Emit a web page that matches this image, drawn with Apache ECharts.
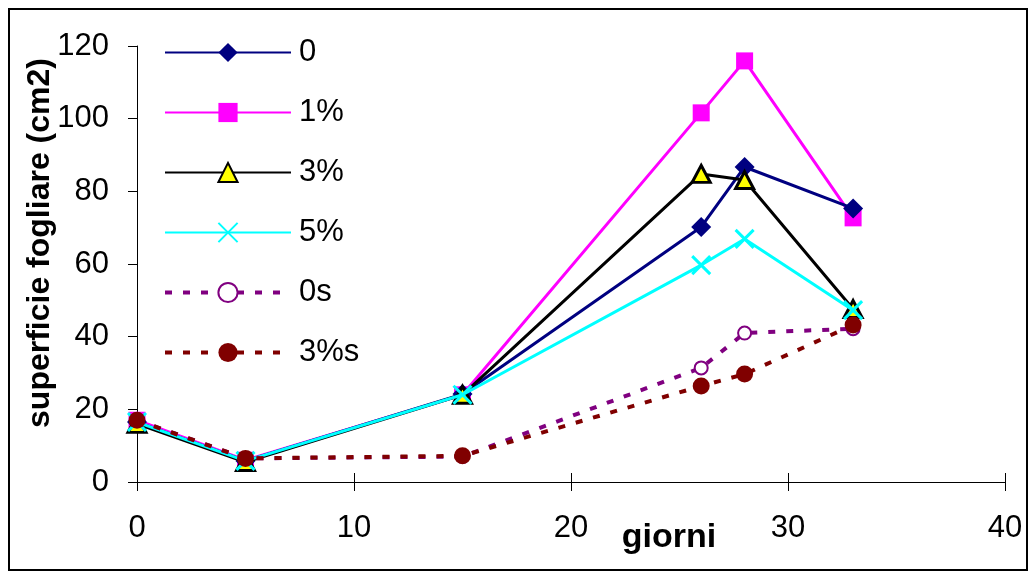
<!DOCTYPE html>
<html>
<head>
<meta charset="utf-8">
<script src="https://cdn.jsdelivr.net/npm/echarts@6/dist/echarts.min.js"></script>
<style>
html,body{margin:0;padding:0;background:#fff;}
#chart{width:1029px;height:573px;}
</style>
</head>
<body>
<div id="chart"></div>
<script>
const days = [0, 5, 15, 26, 28, 33];
const s0    = [16.5, 5.8, 24.2, 70.2, 86.7, 75.3];
const s1    = [17.0, 6.0, 24.0, 101.6, 115.9, 72.7];
const s3    = [16.0, 5.5, 24.0, 84.8, 83.1, 47.6];
const s5    = [16.5, 5.8, 24.0, 59.7, 66.9, 47.3];
const s0s   = [17.0, 6.5, 7.0, 31.4, 41.0, 42.2];
const s3s   = [17.0, 6.5, 7.2, 26.4, 29.7, 43.2];
const seriesNames = ['0', '1%', '3%', '5%', '0s', '3%s'];
const yTicks = [0, 20, 40, 60, 80, 100, 120];
const xTicks = [0, 10, 20, 30, 40];
const yTitle = 'superficie fogliare (cm2)';
const xTitle = 'giorni';

function pairs(arr){ return days.map((d,i)=>[d, arr[i]]); }

const FONT = 'Liberation Sans, Arial, sans-serif';
const chart = echarts.init(document.getElementById('chart'), null, {renderer:'canvas'});

const solidLine = (c)=>({color:c, width:3, type:'solid'});
const dashLine = (c)=>({color:c, width:4, type:[7,11]});

const legendData = seriesNames.map((n, i) => i >= 4
  ? {name:n, lineStyle:{width:4, type:[7,11]}}
  : {name:n, lineStyle:{width:2}});

const option = {
  animation:false,
  backgroundColor:'#fff',
  grid:{left:137, right:24, top:46, bottom:91, containLabel:false},
  legend:{
    left:158, top:32, orient:'vertical',
    itemWidth:126, itemHeight:24, itemGap:29,
    textStyle:{fontFamily:FONT, fontSize:31, color:'#000', padding:[0,0,0,3]},
    data: legendData
  },
  xAxis:[{
    type:'value', min:xTicks[0], max:xTicks[xTicks.length-1], interval:10,
    axisLine:{show:true, onZero:false, lineStyle:{color:'#000', width:1}},
    axisTick:{show:true, length:9, lineStyle:{color:'#000'}},
    axisLabel:{fontFamily:FONT, fontSize:31, color:'#000', margin:31},
    splitLine:{show:false}
  },{
    type:'value', min:xTicks[0], max:xTicks[xTicks.length-1], interval:10, position:'bottom',
    axisLine:{show:false},
    axisTick:{show:true, inside:true, length:9, lineStyle:{color:'#000'}},
    axisLabel:{show:false}, splitLine:{show:false}
  }],
  yAxis:{
    type:'value', min:yTicks[0], max:yTicks[yTicks.length-1], interval:20,
    axisLine:{show:true, lineStyle:{color:'#000', width:1}},
    axisTick:{show:true, length:9, lineStyle:{color:'#000'}},
    axisLabel:{fontFamily:FONT, fontSize:31, color:'#000', margin:28},
    splitLine:{show:false}
  },
  graphic:[
    {type:'rect', shape:{x:9, y:9, width:1018, height:561}, style:{fill:'none', stroke:'#000', lineWidth:2}, silent:true},
    {type:'text', x:40, y:243, rotation:Math.PI/2,
     style:{text:yTitle, fontFamily:FONT, fontSize:32, fontWeight:'bold', fill:'#000', textAlign:'center', textVerticalAlign:'middle'}},
    {type:'text', x:669, y:538,
     style:{text:xTitle, fontFamily:FONT, fontSize:34, fontWeight:'bold', fill:'#000', textAlign:'center', textVerticalAlign:'middle'}}
  ],
  series:[
    {name:seriesNames[0], type:'line', data:pairs(s0), symbol:'diamond', symbolSize:[20,20],
     lineStyle:solidLine('#000080'), itemStyle:{color:'#000080'}, z:3},
    {name:seriesNames[1], type:'line', data:pairs(s1), symbol:'rect', symbolSize:17,
     lineStyle:solidLine('#FF00FF'), itemStyle:{color:'#FF00FF'}, z:2},
    {name:seriesNames[2], type:'line', data:pairs(s3), symbol:'triangle', symbolSize:[18,17],
     lineStyle:solidLine('#000000'), itemStyle:{color:'#FFFF00', borderColor:'#000', borderWidth:3}, z:4},
    {name:seriesNames[3], type:'line', data:pairs(s5), symbol:'path://M0,0L10,10M10,0L0,10', symbolSize:18,
     lineStyle:solidLine('#00FFFF'), itemStyle:{color:'#00FFFF', borderColor:'#00FFFF', borderWidth:3}, z:5},
    {name:seriesNames[4], type:'line', data:pairs(s0s), symbol:'emptyCircle', symbolSize:13,
     lineStyle:dashLine('#800080'), itemStyle:{color:'#800080', borderColor:'#800080', borderWidth:3}, z:6},
    {name:seriesNames[5], type:'line', data:pairs(s3s), symbol:'circle', symbolSize:17,
     lineStyle:dashLine('#800000'), itemStyle:{color:'#800000'}, z:7}
  ]
};
chart.setOption(option);
</script>
</body>
</html>
